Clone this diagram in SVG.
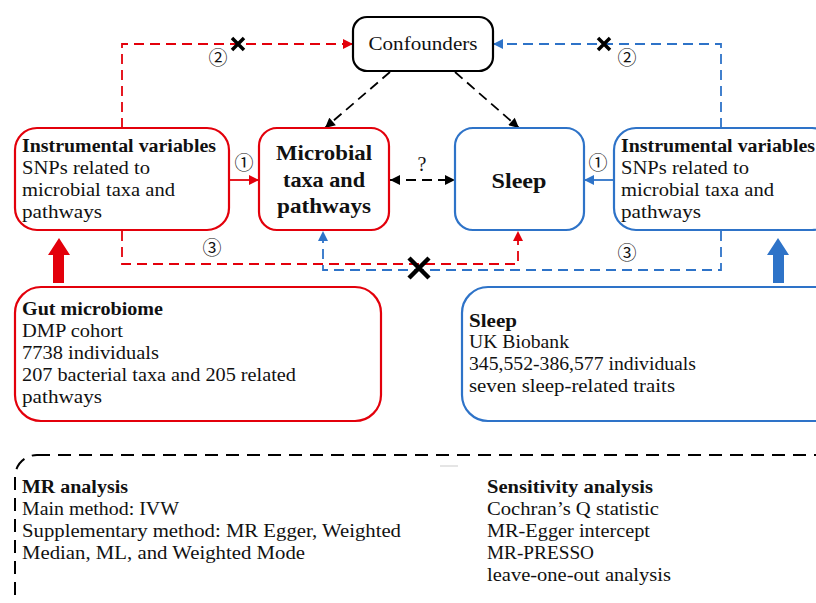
<svg xmlns="http://www.w3.org/2000/svg" width="816" height="603" viewBox="0 0 816 603">
<defs>
<style>
.t{font-family:"Liberation Serif","Times New Roman",serif;font-size:18px;fill:#111;}
.b{font-weight:bold;}
.big{font-family:"Liberation Serif","Times New Roman",serif;font-size:21px;font-weight:bold;fill:#111;}
.num{font-family:"Noto Sans CJK SC","DejaVu Sans",sans-serif;font-size:19px;fill:#111;}
.red{stroke:#e3000b;}
.blue{stroke:#2e73c8;}
.box{fill:#fff;stroke-width:2.2;}
.dash{fill:none;stroke-width:1.8;stroke-dasharray:10 6;}
.solid{fill:none;stroke-width:1.8;}
.x{stroke:#000;stroke-width:3.5;stroke-linecap:butt;}
</style>
<marker id="ar" viewBox="0 0 10 10" refX="10" refY="5" markerWidth="11" markerHeight="10" markerUnits="userSpaceOnUse" orient="auto-start-reverse"><path d="M0,0 L10,5 L0,10 z" fill="#e3000b"/></marker>
<marker id="ab" viewBox="0 0 10 10" refX="10" refY="5" markerWidth="11" markerHeight="10" markerUnits="userSpaceOnUse" orient="auto-start-reverse"><path d="M0,0 L10,5 L0,10 z" fill="#2e73c8"/></marker>
<marker id="ak" viewBox="0 0 10 10" refX="10" refY="5" markerWidth="11" markerHeight="10" markerUnits="userSpaceOnUse" orient="auto-start-reverse"><path d="M0,0 L10,5 L0,10 z" fill="#000"/></marker>
</defs>
<rect width="816" height="603" fill="#fff"/>

<g id="connectors">
<path class="dash red" d="M122 128 V44 H353" marker-end="url(#ar)"/>
<path class="dash blue" d="M721 128 V44 H493" marker-end="url(#ab)"/>
<path class="dash red" d="M122 231 V264 H518 V231" marker-end="url(#ar)"/>
<path class="dash blue" d="M721 231 V270 H323 V231" marker-end="url(#ab)"/>
<path class="dash" stroke="#000" d="M390 72 L325 128" marker-end="url(#ak)"/>
<path class="dash" stroke="#000" d="M455 72 L519 128" marker-end="url(#ak)"/>
<path class="dash" stroke="#000" d="M390 180 H455" marker-start="url(#ak)" marker-end="url(#ak)"/>
<path class="solid red" d="M229 180 H259" marker-end="url(#ar)"/>
<path class="solid blue" d="M614 180 H584" marker-end="url(#ab)"/>
<polygon points="53,283 64,283 64,255 70,255 59,238 48,255 53,255" fill="#e3000b"/>
<polygon points="773,283 784,283 784,255 789,255 778,238 767,255 773,255" fill="#2e73c8"/>
<path class="x" d="M232 38 L244 50 M232 50 L244 38"/>
<path class="x" d="M598 38 L610 50 M598 50 L610 38"/>
<path class="x" style="stroke-width:4.5" d="M409 258 L429 278 M409 278 L429 258"/>
<text class="num" x="218" y="65" text-anchor="middle">②</text>
<text class="num" x="627" y="65" text-anchor="middle">②</text>
<text class="num" x="244" y="170" text-anchor="middle">①</text>
<text class="num" x="598" y="170" text-anchor="middle">①</text>
<text class="num" x="212" y="255" text-anchor="middle">③</text>
<text class="num" x="627" y="260" text-anchor="middle">③</text>
<text class="t" x="422" y="171" text-anchor="middle" style="font-size:20px">?</text>
</g>

<g id="confounders">
<rect class="box" x="353" y="17" width="140" height="54" rx="14" stroke="#000"/>
<text class="t" x="423" y="50" text-anchor="middle" textLength="109" lengthAdjust="spacingAndGlyphs">Confounders</text>
</g>

<g id="iv-left">
<rect class="box red" x="15" y="128" width="214" height="102" rx="22"/>
<text class="t b" x="22" y="152" textLength="194" lengthAdjust="spacingAndGlyphs">Instrumental variables</text>
<text class="t" x="22" y="174" textLength="128" lengthAdjust="spacingAndGlyphs">SNPs related to</text>
<text class="t" x="22" y="196" textLength="153" lengthAdjust="spacingAndGlyphs">microbial taxa and</text>
<text class="t" x="22" y="218" textLength="80" lengthAdjust="spacingAndGlyphs">pathways</text>
</g>

<g id="microbial">
<rect class="box red" x="259" y="128" width="130" height="102" rx="18"/>
<text class="big" x="324" y="160" text-anchor="middle" textLength="96" lengthAdjust="spacingAndGlyphs">Microbial</text>
<text class="big" x="324" y="187" text-anchor="middle" textLength="82" lengthAdjust="spacingAndGlyphs">taxa and</text>
<text class="big" x="324" y="213" text-anchor="middle" textLength="94" lengthAdjust="spacingAndGlyphs">pathways</text>
</g>

<g id="sleep">
<rect class="box blue" x="455" y="128" width="129" height="102" rx="18"/>
<text class="big" x="519" y="188" text-anchor="middle" textLength="55" lengthAdjust="spacingAndGlyphs">Sleep</text>
</g>

<g id="iv-right">
<rect class="box blue" x="614" y="128" width="220" height="102" rx="22"/>
<text class="t b" x="621" y="152" textLength="194" lengthAdjust="spacingAndGlyphs">Instrumental variables</text>
<text class="t" x="621" y="174" textLength="128" lengthAdjust="spacingAndGlyphs">SNPs related to</text>
<text class="t" x="621" y="196" textLength="153" lengthAdjust="spacingAndGlyphs">microbial taxa and</text>
<text class="t" x="621" y="218" textLength="80" lengthAdjust="spacingAndGlyphs">pathways</text>
</g>

<g id="gut-microbiome">
<rect class="box red" x="15" y="287" width="366" height="134" rx="26"/>
<text class="t b" x="22" y="315" textLength="141" lengthAdjust="spacingAndGlyphs">Gut microbiome</text>
<text class="t" x="22" y="337" textLength="101" lengthAdjust="spacingAndGlyphs">DMP cohort</text>
<text class="t" x="22" y="359" textLength="137" lengthAdjust="spacingAndGlyphs">7738 individuals</text>
<text class="t" x="22" y="381" textLength="274" lengthAdjust="spacingAndGlyphs">207 bacterial taxa and 205 related</text>
<text class="t" x="22" y="403" textLength="80" lengthAdjust="spacingAndGlyphs">pathways</text>
</g>

<g id="sleep-data">
<rect class="box blue" x="462" y="287" width="380" height="134" rx="26"/>
<text class="t b" x="469" y="327" textLength="48" lengthAdjust="spacingAndGlyphs">Sleep</text>
<text class="t" x="469" y="348" textLength="100" lengthAdjust="spacingAndGlyphs">UK Biobank</text>
<text class="t" x="469" y="370" textLength="227" lengthAdjust="spacingAndGlyphs">345,552-386,577 individuals</text>
<text class="t" x="469" y="392" textLength="206" lengthAdjust="spacingAndGlyphs">seven sleep-related traits</text>
</g>

<g id="analysis">
<rect x="15" y="455" width="830" height="200" rx="22" fill="none" stroke="#000" stroke-width="2" stroke-dasharray="13 8"/>
<line x1="440" y1="466" x2="458" y2="466" stroke="#ddd" stroke-width="1.5"/>
<text class="t b" x="22" y="493" textLength="106" lengthAdjust="spacingAndGlyphs">MR analysis</text>
<text class="t" x="22" y="515" textLength="157" lengthAdjust="spacingAndGlyphs">Main method: IVW</text>
<text class="t" x="22" y="537" textLength="379" lengthAdjust="spacingAndGlyphs">Supplementary method: MR Egger, Weighted</text>
<text class="t" x="22" y="559" textLength="283" lengthAdjust="spacingAndGlyphs">Median, ML, and Weighted Mode</text>
<text class="t b" x="487" y="493" textLength="166" lengthAdjust="spacingAndGlyphs">Sensitivity analysis</text>
<text class="t" x="487" y="515" textLength="172" lengthAdjust="spacingAndGlyphs">Cochran’s Q statistic</text>
<text class="t" x="487" y="537" textLength="163" lengthAdjust="spacingAndGlyphs">MR-Egger intercept</text>
<text class="t" x="487" y="559" textLength="107" lengthAdjust="spacingAndGlyphs">MR-PRESSO</text>
<text class="t" x="487" y="581" textLength="184" lengthAdjust="spacingAndGlyphs">leave-one-out analysis</text>
</g>
</svg>
